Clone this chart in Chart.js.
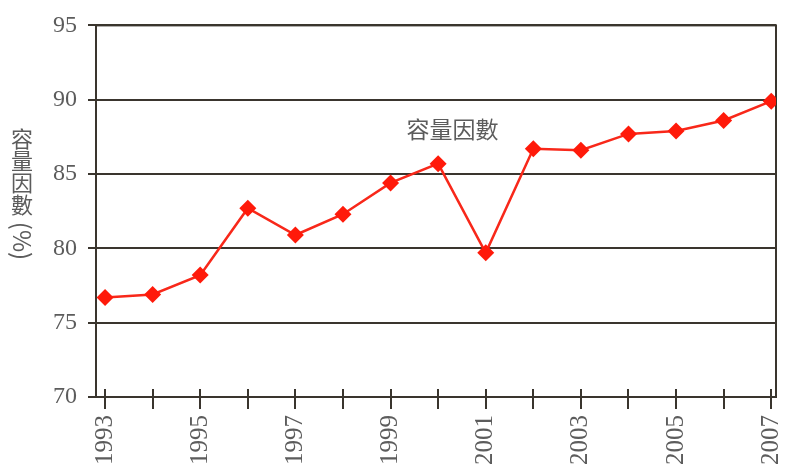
<!DOCTYPE html>
<html>
<head>
<meta charset="utf-8">
<script src="https://cdn.jsdelivr.net/npm/chart.js@4"></script>
<style>
  html, body { margin: 0; padding: 0; background: #fff; }
  #wrap { width: 787px; height: 473px; }
</style>
</head>
<body>
<div id="wrap"><canvas id="capacityChart"></canvas></div>
<script>
// 容量因數 by year
const years = [1993, 1994, 1995, 1996, 1997, 1998, 1999, 2000, 2001, 2002, 2003, 2004, 2005, 2006, 2007];
const capacityFactor = [76.7, 76.9, 78.2, 82.7, 80.9, 82.3, 84.4, 85.7, 79.7, 86.7, 86.6, 87.7, 87.9, 88.6, 89.9];
const yTicks = [70, 75, 80, 85, 90, 95];
const seriesLabel = '容量因數';
const yTitle = ['容', '量', '因', '數'];
const yTitleUnit = '(%)';

const ink = '#3a352e';
const textGray = '#5c5c5c';

// frame, inner tick stubs, series label and the vertical axis title
const decorations = {
  id: 'decorations',
  beforeDatasetsDraw(chart) {
    const { ctx, chartArea: a, scales } = chart;
    ctx.save();
    ctx.strokeStyle = ink;
    ctx.lineWidth = 2;
    ctx.strokeRect(a.left, a.top, a.right - a.left, a.bottom - a.top);
    // x ticks cross the axis line
    ctx.beginPath();
    scales.x.ticks.forEach(t => {
      const px = Math.round(scales.x.getPixelForValue(t.value));
      if (px > a.left + 2 && px < a.right - 2) {
        ctx.moveTo(px, a.bottom - 8);
        ctx.lineTo(px, a.bottom);
      }
    });
    ctx.stroke();
    ctx.restore();
  },
  afterDraw(chart) {
    const { ctx, scales } = chart;
    ctx.save();
    ctx.fillStyle = textGray;
    ctx.font = '23px "Noto Sans CJK TC", sans-serif';
    ctx.textAlign = 'center';
    ctx.textBaseline = 'middle';
    ctx.fillText(seriesLabel, scales.x.getPixelForValue(2000.3), scales.y.getPixelForValue(88.0));

    // axis title: upright CJK characters, then the unit turned sideways
    ctx.font = '22px "Noto Sans CJK TC", sans-serif';
    let y = 139;
    yTitle.forEach(ch => {
      ctx.fillText(ch, 22, y);
      y += 22;
    });
    ctx.translate(22, y + 14);
    ctx.rotate(Math.PI / 2);
    ctx.font = '24px "Noto Sans CJK TC", sans-serif';
    ctx.fillText(yTitleUnit, 0, 0);
    ctx.restore();
  }
};

new Chart(document.getElementById('capacityChart'), {
  type: 'line',
  data: {
    datasets: [{
      label: seriesLabel,
      data: years.map((yr, i) => ({ x: yr, y: capacityFactor[i] })),
      borderColor: '#f8281a',
      borderWidth: 2.5,
      backgroundColor: '#ff1a0a',
      pointStyle: 'rectRot',
      pointRadius: 8.5,
      pointHoverRadius: 8.5,
      pointBorderWidth: 0,
      tension: 0,
      fill: false
    }]
  },
  options: {
    responsive: true,
    maintainAspectRatio: false,
    animation: false,
    events: [],
    layout: { padding: { top: 23, right: 11, left: 0, bottom: 0 } },
    plugins: {
      legend: { display: false },
      tooltip: { enabled: false }
    },
    scales: {
      x: {
        type: 'linear',
        min: years[0] - 0.19,
        max: years[years.length - 1] + 0.1,
        afterFit(scale) {
          scale.height = 76;
          scale.paddingLeft = 0;
          scale.paddingRight = 0;
        },
        border: { display: true, color: ink, width: 2 },
        grid: {
          drawOnChartArea: false,
          drawTicks: true,
          tickLength: 12,
          color: ink,
          lineWidth: 2
        },
        ticks: {
          stepSize: 1,
          includeBounds: false,
          autoSkip: false,
          maxRotation: 90,
          minRotation: 90,
          padding: 6,
          color: textGray,
          font: { family: '"Liberation Serif", serif', size: 25 },
          callback: v => (v % 2 === 1 ? String(v) : '')
        }
      },
      y: {
        min: yTicks[0],
        max: yTicks[yTicks.length - 1],
        afterFit(scale) { scale.width = 96; },
        afterBuildTicks(scale) { scale.ticks = yTicks.map(v => ({ value: v })); },
        border: { display: true, color: ink, width: 2 },
        grid: {
          color: ink,
          lineWidth: 2,
          drawTicks: true,
          tickLength: 8
        },
        ticks: {
          padding: 11,
          color: textGray,
          font: { family: '"Liberation Serif", serif', size: 24 }
        }
      }
    }
  },
  plugins: [decorations]
});
</script>
</body>
</html>
